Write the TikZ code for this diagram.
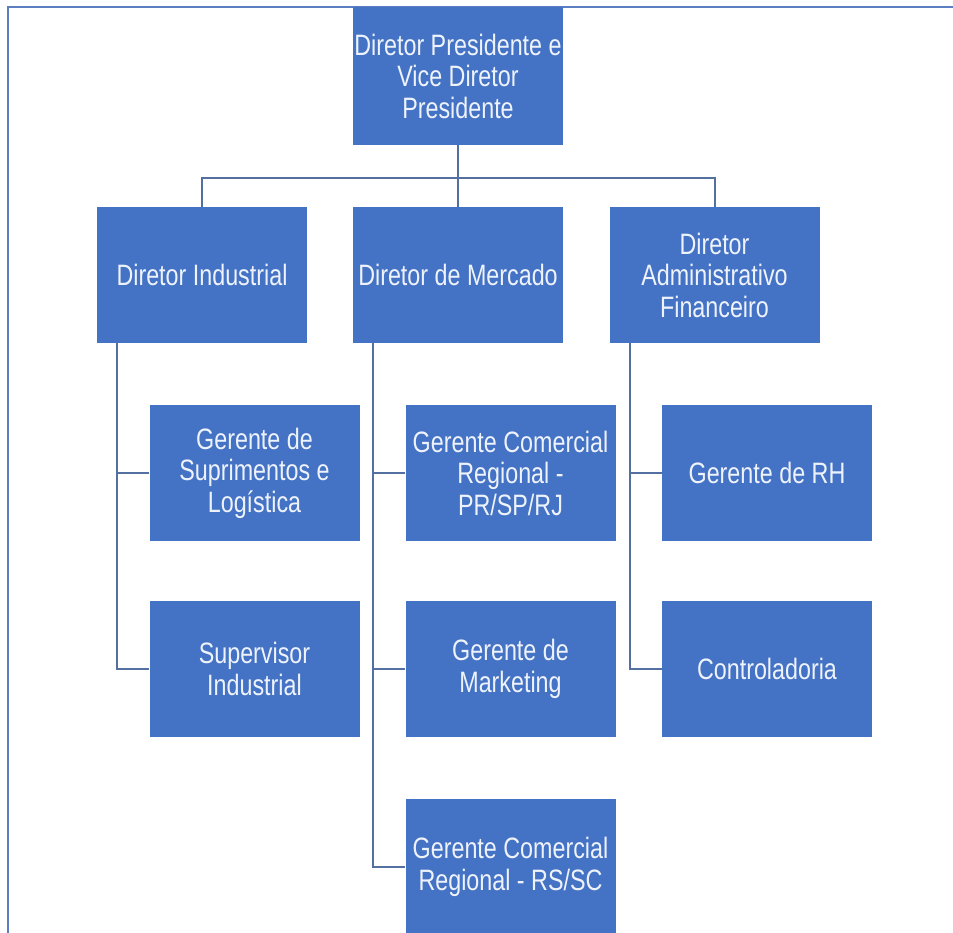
\documentclass[tikz,border=0pt]{standalone}
\usepackage{fontspec}
\setmainfont{Liberation Sans}[FakeStretch=0.79]
\definecolor{boxblue}{HTML}{4472C4}
\definecolor{linec}{HTML}{5470A0}
\definecolor{framec}{HTML}{5B7FC0}
\definecolor{txt}{HTML}{EEF3FB}
\begin{document}
\begin{tikzpicture}[x=1pt,y=-1pt,
  orgbox/.style={fill=boxblue, draw=none, minimum width=210pt, minimum height=136pt,
    inner sep=0pt, text=txt, align=center, font=\fontsize{29.5}{31.5}\selectfont},
  conn/.style={draw=linec, line width=2pt}]
\clip (0,0) rectangle (953,933);
\fill[white] (0,0) rectangle (953,933);
% frame
\draw[framec, line width=1.5pt] (8,933) -- (8,7) -- (953,7);
% nodes
\node[orgbox, minimum height=138pt] (top) at (458,76) {Diretor Presidente e\\Vice Diretor\\Presidente};
\node[orgbox] (d1) at (202,275) {Diretor Industrial};
\node[orgbox] (d2) at (458,275) {Diretor de Mercado};
\node[orgbox] (d3) at (714.5,275) {Diretor\\Administrativo\\Financeiro};
\node[orgbox] (g11) at (254.5,473) {Gerente de\\Suprimentos e\\Logística};
\node[orgbox] (g12) at (254.5,669) {Supervisor\\Industrial};
\node[orgbox] (g21) at (510.5,473) {Gerente Comercial\\Regional -\\PR/SP/RJ};
\node[orgbox] (g22) at (510.5,669) {Gerente de\\Marketing};
\node[orgbox] (g23) at (510.5,867) {Gerente Comercial\\Regional - RS/SC};
\node[orgbox] (g31) at (767,473) {Gerente de RH};
\node[orgbox] (g32) at (767,669) {Controladoria};
% coordinates
\coordinate (busy) at (0,178);
\coordinate (c1) at (117,0);
\coordinate (c2) at (373,0);
\coordinate (c3) at (630,0);
% top connectors
\draw[conn] (top.south) -- (top.south |- busy);
\draw[conn] (d1.north) -- (d1.north |- busy) -- (d3.north |- busy) -- (d3.north);
\draw[conn] (top.south |- busy) -- (d2.north);
% column connectors
\draw[conn] (d1.south -| c1) |- (g11.west);
\draw[conn] (d1.south -| c1) |- (g12.west);
\draw[conn] (d2.south -| c2) |- (g21.west);
\draw[conn] (d2.south -| c2) |- (g22.west);
\draw[conn] (d2.south -| c2) |- (g23.west);
\draw[conn] (d3.south -| c3) |- (g31.west);
\draw[conn] (d3.south -| c3) |- (g32.west);
\end{tikzpicture}
\end{document}
